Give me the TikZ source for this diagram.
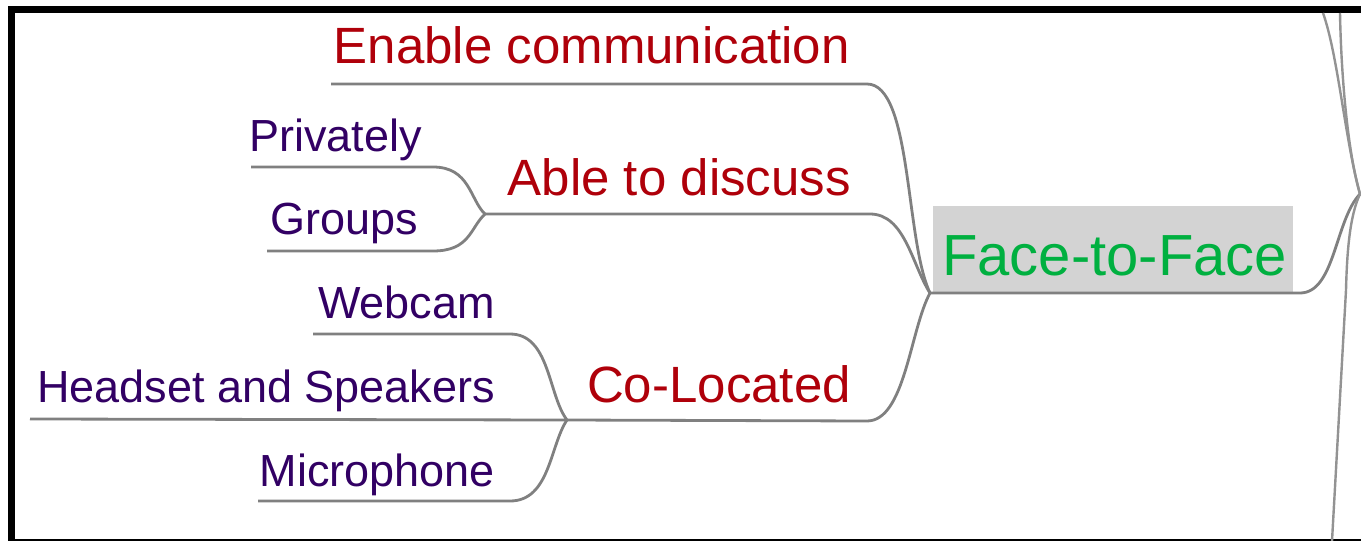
\documentclass[tikz,border=0pt]{standalone}
\usepackage{fontspec}
\setmainfont{Liberation Sans}
\definecolor{redlab}{RGB}{175,0,10}
\definecolor{sublabc}{RGB}{50,0,100}
\definecolor{greenlab}{RGB}{0,176,64}
\definecolor{linegray}{RGB}{128,128,128}
\definecolor{boxgray}{RGB}{211,211,211}
\begin{document}
\begin{tikzpicture}[x=1pt,y=-1pt,
  branch/.style={draw=linegray,line width=2.8pt},
  trunk/.style={draw=linegray!85,line width=2.4pt},
  mainlab/.style={inner sep=0pt,anchor=base east,text=redlab,font=\fontsize{51}{60}\selectfont},
  sublab/.style={inner sep=0pt,anchor=base east,text=sublabc,font=\fontsize{45}{52}\selectfont},
  toplab/.style={inner sep=0pt,anchor=base west,text=greenlab,font=\fontsize{58}{68}\selectfont}
 ]
\useasboundingbox (0,0) rectangle (1361,541);
\fill[white] (0,0) rectangle (1361,541);
% frame
\fill[black] (8,6) rectangle (15,541);
\fill[black] (8,6) rectangle (1361,13);
\fill[black] (8,539) rectangle (1361,541);

% central box
\node[fill=boxgray,anchor=north west,minimum width=360pt,minimum height=87pt,inner sep=0pt] (facebox) at (933,206) {};
\node[toplab] (face) at (942,275) {Face-to-Face};

% labels
\node[mainlab] (enable) at (850,63) {Enable communication};
\node[mainlab] (able) at (851,195) {Able to discuss};
\node[mainlab] (coloc) at (851,402) {Co-Located};
\node[sublab] (priv) at (422,151) {Privately};
\node[sublab] (groups) at (418,234) {Groups};
\node[sublab] (webcam) at (495,318) {Webcam};
\node[sublab] (headset) at (495,402) {Headset and Speakers};
\node[sublab] (micro) at (495,486) {Microphone};

% junctions and line ends
\coordinate (jF) at (930,293);
\coordinate (jA) at (485,214);
\coordinate (jC) at (567,420);
\coordinate (jR) at (1360,194);
\coordinate (sEnable) at (331,84);
\coordinate (sPriv) at (251,167);
\coordinate (sGroups) at (267,251);
\coordinate (sWebcam) at (313,334);
\coordinate (sHeadset) at (30,419);
\coordinate (sMicro) at (258,501);
\coordinate (tA) at (1323,13);
\coordinate (tB) at (1340,13);
\coordinate (bC) at (1332,541);

% connectors
\draw[branch] (sEnable) -- (867,84) .. controls (912,84) and (905,240) .. (jF);
\draw[branch] (jA) -- (870,214) .. controls (905,214) and (912,265) .. (jF);
\draw[branch] (jC) -- (867,421) .. controls (905,421) and (910,330) .. (jF);
\draw[branch] (sPriv) -- (433,167) .. controls (470,167) and (470,200) .. (jA);
\draw[branch] (sGroups) -- (433,251) .. controls (470,251) and (470,228) .. (jA);
\draw[branch] (sWebcam) -- (510,334) .. controls (550,334) and (548,395) .. (jC);
\draw[branch] (sHeadset) -- (jC);
\draw[branch] (sMicro) -- (510,501) .. controls (550,501) and (550,445) .. (jC);
\draw[branch] (jF) -- (1300,293) .. controls (1335,293) and (1335,220) .. (jR);
\draw[trunk] (tA) .. controls (1338,55) and (1345,140) .. (jR);
\draw[trunk] (tB) .. controls (1341,70) and (1347,150) .. (jR);
\draw[trunk] (jR) .. controls (1350,215) and (1347,250) .. (1346,290) -- (bC);
\end{tikzpicture}
\end{document}
